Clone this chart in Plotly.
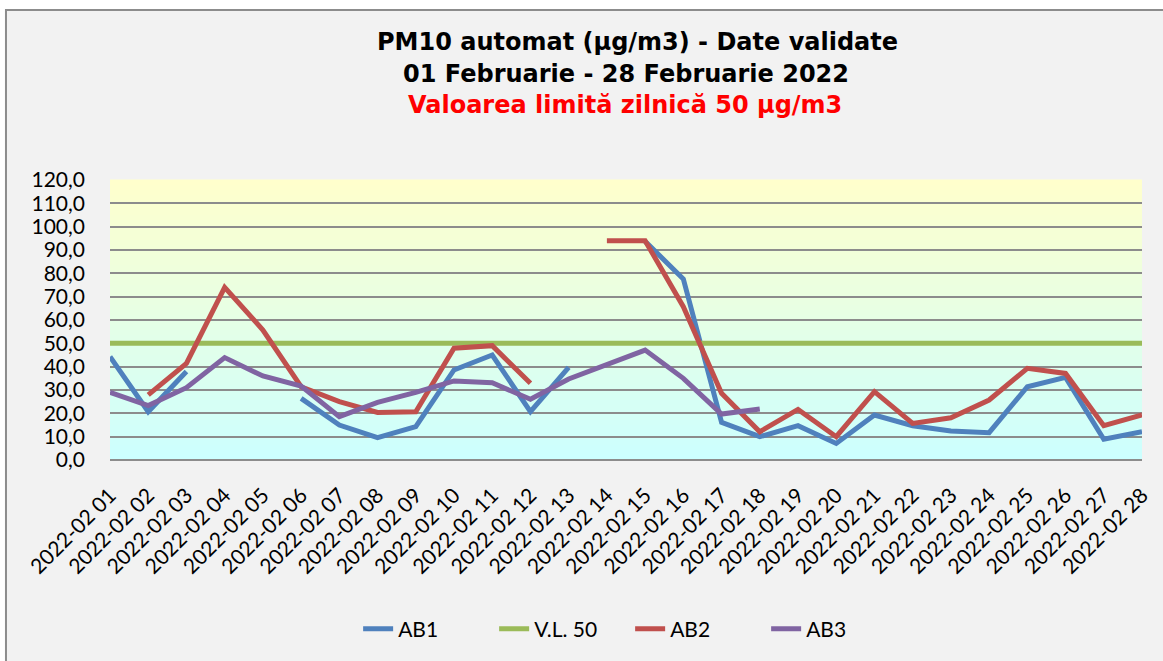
import plotly.graph_objects as go

# zilele lunii (etichete axa X)
days = [f"2022-02 {d:02d}" for d in range(1, 29)]

# PM10 automat (ug/m3) - valori zilnice validate
ab1 = [44.3, 20.7, 37.9, None, None, 26.4, 15.0, 9.6, 14.3, 38.6,
       45.0, 20.7, 39.7, None, 93.7, 77.6, 16.1, 10.0, 14.7, 7.1,
       19.3, 14.7, 12.4, 11.7, 31.4, 35.4, 8.9, 12.1]
vl50 = [50.0, 50.0, 50.0, 50.0, 50.0, 50.0, 50.0, 50.0, 50.0, 50.0,
        50.0, 50.0, 50.0, 50.0, 50.0, 50.0, 50.0, 50.0, 50.0, 50.0,
        50.0, 50.0, 50.0, 50.0, 50.0, 50.0, 50.0, 50.0]
ab2 = [None, 27.9, 41.4, 74.0, 55.7, 31.4, 25.0, 20.4, 20.7, 47.9,
       49.0, 32.9, None, 94.0, 94.0, 65.7, 28.6, 12.1, 21.7, 10.0,
       29.3, 15.7, 18.1, 25.7, 39.3, 37.1, 14.7, 19.3]
ab3 = [29.0, 23.3, 31.0, 43.9, 36.0, 31.7, 18.6, 24.7, 29.0, 33.9,
       33.1, 26.0, 34.7, 40.7, 47.1, 35.0, 19.7, 21.9, None, None,
       None, None, None, None, None, None, None, None]

series = [
    ("AB1", ab1, "#4F81BD"),
    ("V.L. 50", vl50, "#9BBB59"),
    ("AB2", ab2, "#C0504D"),
    ("AB3", ab3, "#8064A2"),
]

fig = go.Figure()
for name, vals, color in series:
    fig.add_trace(go.Scatter(
        x=days, y=vals, name=name, mode="lines",
        line=dict(color=color, width=5),
        connectgaps=False,
    ))

# chenar exterior (fundal gri deschis)
shapes = [dict(
    type="rect", xref="paper", yref="paper", layer="below",
    x0=-0.1008, x1=1.2, y0=-1.0, y1=1.607,
    fillcolor="#F2F2F2", line=dict(color="#8C8C8C", width=2),
)]

# fundal zona graficului: gradient galben -> cyan
n_strips = 56
for i in range(n_strips):
    t = (i + 0.5) / n_strips  # 0 jos, 1 sus
    r = round(204 + 51 * t)
    b = round(255 - 51 * t)
    shapes.append(dict(
        type="rect", xref="x domain", yref="y domain", layer="below",
        x0=0, x1=1, y0=i / n_strips, y1=(i + 1) / n_strips + 0.002,
        fillcolor=f"rgb({r},255,{b})", line=dict(width=0),
    ))

title_font = dict(family="DejaVu Sans", size=24, color="black")
annotations = [
    dict(text="<b>PM10 automat (µg/m3) - Date validate</b>", x=0.5116, y=1.4929,
         font=title_font),
    dict(text="<b>01 Februarie - 28 Februarie 2022</b>", x=0.4999, y=1.3786,
         font=title_font),
    dict(text="<b>Valoarea limită zilnică 50 µg/m3</b>", x=0.4990, y=1.2679,
         font=dict(family="DejaVu Sans", size=24, color="#FF0000")),
]
for a in annotations:
    a.update(xref="paper", yref="paper", xanchor="center", yanchor="middle",
             showarrow=False)

fig.update_layout(
    width=1163, height=661,
    margin=dict(l=110, r=21, t=180, b=201, autoexpand=False),
    paper_bgcolor="white",
    plot_bgcolor="#E5FFE5",
    separators=", ",
    font=dict(family="Lato", size=21, color="black"),
    shapes=shapes,
    annotations=annotations,
    showlegend=True,
    legend=dict(orientation="h", x=0.504, xanchor="center", y=-0.6036,
                yanchor="middle", bgcolor="rgba(0,0,0,0)",
                entrywidth=91, entrywidthmode="pixels",
                font=dict(family="Lato", size=21)),
)
fig.update_xaxes(type="category", tickangle=-45, showgrid=False,
                 showline=False, ticks="", tickfont=dict(size=21),
                 ticklabelstandoff=18, automargin=False)
fig.update_yaxes(range=[0, 120], dtick=10, tickformat=".1f",
                 showgrid=True, gridcolor="#8C8C8C", gridwidth=2,
                 zeroline=True, zerolinecolor="#8C8C8C", zerolinewidth=2,
                 showline=False, ticks="", tickfont=dict(size=21),
                 ticklabelstandoff=24, automargin=False)

# pagina fara marginea implicita a body-ului, fara bara de unelte
fig.write_html("out.html", config={"displayModeBar": False},
               post_script="document.body.style.margin='0';")
